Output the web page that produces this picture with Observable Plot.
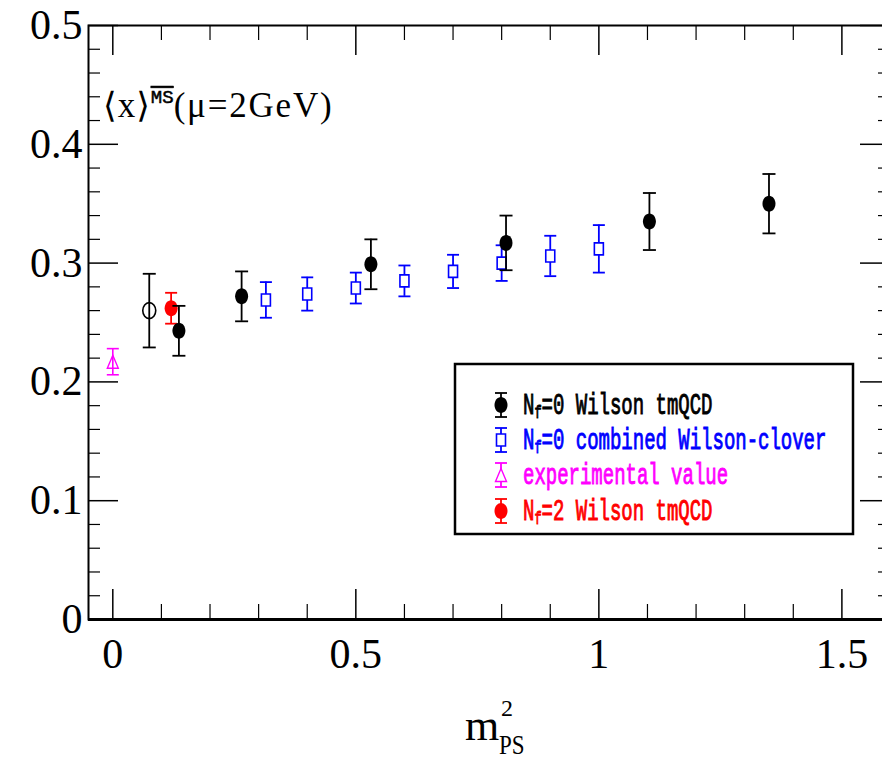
<!DOCTYPE html>
<html><head><meta charset="utf-8">
<script src="https://cdn.jsdelivr.net/npm/d3@7"></script>
<script src="https://cdn.jsdelivr.net/npm/@observablehq/plot@0.6"></script>
<style>
html,body{margin:0;padding:0;background:#fff;overflow:hidden;}
#wrap{position:relative;width:882px;height:758px;}
#overlay{position:absolute;left:0;top:0;pointer-events:none;}
</style></head><body><div id="wrap"></div>
<script>
// ---- data ----
const wilsonX   = [0.136, 0.265, 0.531, 0.809, 1.104, 1.350];
const wilsonY   = [0.243, 0.272, 0.299, 0.317, 0.335, 0.350];
const wilsonErr = [0.021, 0.021, 0.021, 0.023, 0.024, 0.025];

const chiralX   = [0.075];
const chiralY   = [0.260];
const chiralErr = [0.031];

const cloverX   = [0.315, 0.40, 0.50, 0.60, 0.70, 0.80, 0.90, 1.00];
const cloverY   = [0.269, 0.274, 0.279, 0.285, 0.293, 0.300, 0.306, 0.312];
const cloverErr = [0.015, 0.014, 0.013, 0.013, 0.014, 0.015, 0.017, 0.020];

const exptX   = [0.0];
const exptY   = [0.217];
const exptErr = [0.011];

const nf2X   = [0.120];
const nf2Y   = [0.262];
const nf2Err = [0.013];

const xMajor = [0, 0.5, 1, 1.5];
const xMinor = [0.1, 0.2, 0.3, 0.4, 0.6, 0.7, 0.8, 0.9, 1.1, 1.2, 1.3, 1.4];
const yMajor = [0, 0.1, 0.2, 0.3, 0.4, 0.5];
const yMinor = [0.02, 0.04, 0.06, 0.08, 0.12, 0.14, 0.16, 0.18, 0.22, 0.24, 0.26, 0.28,
                0.32, 0.34, 0.36, 0.38, 0.42, 0.44, 0.46, 0.48];

const legendLabels = ["0 Wilson tmQCD", "0 combined Wilson-clover", "experimental value", "2 Wilson tmQCD"];
const legendColors = ["black", "#0000ff", "#ff00ff", "#ff0000"];

// ---- helpers ----
const rec = (X, Y, E) => X.map((x, i) => ({x, y: Y[i], e: E[i]}));
const wilson = rec(wilsonX, wilsonY, wilsonErr);
const chiral = rec(chiralX, chiralY, chiralErr);
const clover = rec(cloverX, cloverY, cloverErr);
const expt = rec(exptX, exptY, exptErr);
const nf2 = rec(nf2X, nf2Y, nf2Err);

function ellipseSym(rx, ry) {
  return {draw(c) {
    const k = 0.5523;
    c.moveTo(rx, 0);
    c.bezierCurveTo(rx, k*ry, k*rx, ry, 0, ry);
    c.bezierCurveTo(-k*rx, ry, -rx, k*ry, -rx, 0);
    c.bezierCurveTo(-rx, -k*ry, -k*rx, -ry, 0, -ry);
    c.bezierCurveTo(k*rx, -ry, rx, -k*ry, rx, 0);
    c.closePath();
  }};
}
function rectSym(w, h) { return {draw(c) { c.rect(-w/2, -h/2, w, h); }}; }
function triSym(w, h) { return {draw(c) { c.moveTo(0, -h/2); c.lineTo(w/2, h/2); c.lineTo(-w/2, h/2); c.closePath(); }}; }
function capSym(w) { return {draw(c) { c.moveTo(-w/2, 0); c.lineTo(w/2, 0); }}; }

function errMarks(data, color, capW, sw) {
  return [
    Plot.ruleX(data, {x: "x", y1: d => d.y - d.e, y2: d => d.y + d.e, stroke: color, strokeWidth: sw}),
    Plot.dot(data, {x: "x", y: d => d.y + d.e, symbol: capSym(capW), stroke: color, fill: "none", strokeWidth: sw}),
    Plot.dot(data, {x: "x", y: d => d.y - d.e, symbol: capSym(capW), stroke: color, fill: "none", strokeWidth: sw})
  ];
}

// ---- layout ----
const W = 882, H = 758, mT = 25, mB = 139, mL = 88, mR = -8;
const pW = W - mL - mR, pH = H - mT - mB;
const serif = "'Liberation Serif', 'DejaVu Serif', serif";

const chart = Plot.plot({
  width: W, height: H,
  marginTop: mT, marginBottom: mB, marginLeft: mL, marginRight: mR,
  x: {domain: [-0.05, 1.6], axis: null},
  y: {domain: [0, 0.5], axis: null},
  style: {background: "white"},
  marks: [
    // ticks (inward, all four sides)
    Plot.tickX(xMajor, {x: d => d, insetTop: pH - 30, stroke: "black", strokeWidth: 1.5}),
    Plot.tickX(xMinor, {x: d => d, insetTop: pH - 15, stroke: "black", strokeWidth: 1.2}),
    Plot.tickX(xMajor, {x: d => d, insetBottom: pH - 30, stroke: "black", strokeWidth: 1.5}),
    Plot.tickX(xMinor, {x: d => d, insetBottom: pH - 15, stroke: "black", strokeWidth: 1.2}),
    Plot.tickY(yMajor, {y: d => d, insetRight: pW - 30, stroke: "black", strokeWidth: 1.5}),
    Plot.tickY(yMinor, {y: d => d, insetRight: pW - 12, stroke: "black", strokeWidth: 1.2}),
    Plot.tickY(yMajor, {y: d => d, insetLeft: pW - 30, stroke: "black", strokeWidth: 1.5}),
    Plot.tickY(yMinor, {y: d => d, insetLeft: pW - 12, stroke: "black", strokeWidth: 1.2}),
    Plot.frame({stroke: "black", strokeWidth: 2}),
    Plot.ruleY([0], {stroke: "black", strokeWidth: 3}),
    // tick labels
    Plot.text(xMajor, {x: d => d, frameAnchor: "bottom", dy: 48, text: d => String(d),
      fontSize: 42, fontFamily: serif, fill: "black", letterSpacing: 3}),
    Plot.text(yMajor, {y: d => d, frameAnchor: "left", dx: -6, textAnchor: "end", text: d => String(d),
      fontSize: 42, fontFamily: serif, fill: "black"}),
    // data
    ...errMarks(expt, "#ff00ff", 12, 1.6),
    Plot.dot(expt, {x: "x", y: "y", symbol: triSym(11, 13), stroke: "#ff00ff", fill: "none", strokeWidth: 1.4}),
    ...errMarks(clover, "#0000ff", 12, 1.8),
    Plot.dot(clover, {x: "x", y: "y", symbol: rectSym(9, 12), stroke: "#0000ff", fill: "white", strokeWidth: 1.6}),
    ...errMarks(chiral, "black", 13, 1.8),
    Plot.dot(chiral, {x: "x", y: "y", symbol: ellipseSym(6.5, 8), stroke: "black", fill: "none", strokeWidth: 1.6}),
    ...errMarks(nf2, "#ff0000", 12, 1.8),
    Plot.dot(nf2, {x: "x", y: "y", symbol: ellipseSym(6.5, 8), stroke: "none", fill: "#ff0000"}),
    ...errMarks(wilson, "black", 13, 1.8),
    Plot.dot(wilson, {x: "x", y: "y", symbol: ellipseSym(6.5, 8), stroke: "none", fill: "black"})
  ]
});
document.getElementById("wrap").appendChild(chart);

// y tick labels: spread digits a little like the reference
d3.select(chart).selectAll("text").filter(function() { return this.getAttribute("text-anchor") === "end"; })
  .attr("letter-spacing", 3);

// ---- overlay: annotation, axis title, legend ----
const ov = d3.select("#wrap").append("svg").attr("id", "overlay")
  .attr("width", W).attr("height", H);

// annotation <x>^MS(mu=2GeV)
const ann = ov.append("text").attr("x", 103).attr("y", 117)
  .attr("font-family", serif).attr("font-size", 35).attr("fill", "black");
ann.append("tspan").attr("letter-spacing", 1).text("⟨x⟩");
ann.append("tspan").attr("font-size", 19).attr("dy", -14).attr("font-family", "'Liberation Mono', monospace")
  .attr("stroke", "black").attr("stroke-width", 0.5).style("text-decoration", "overline").text("MS");
ann.append("tspan").attr("dy", 14).attr("letter-spacing", 1.8).text("(μ=2GeV)");

// x axis title m^2_PS
const xl = ov.append("g").attr("font-family", serif).attr("fill", "black");
xl.append("text").attr("x", 465).attr("y", 740).attr("font-size", 44).text("m");
xl.append("text").attr("x", 501).attr("y", 716).attr("font-size", 24).text("2");
xl.append("text").attr("transform", "translate(499,754) scale(1,1.2)").attr("font-size", 23).text("PS");

// legend
const lg = ov.append("g");
lg.append("rect").attr("x", 455).attr("y", 364).attr("width", 398).attr("height", 170)
  .attr("fill", "white").attr("stroke", "black").attr("stroke-width", 2.5);
const rowY = [405, 440, 475, 511];
const symX = 501;
const ell = (rx, ry) => d3.symbol(ellipseSym(rx, ry))();
legendLabels.forEach((lab, i) => {
  const col = legendColors[i], cy = rowY[i];
  const g = lg.append("g").attr("transform", `translate(${symX},${cy})`);
  g.append("line").attr("y1", -12).attr("y2", 12).attr("stroke", col).attr("stroke-width", 1.8);
  g.append("line").attr("x1", -6).attr("x2", 6).attr("y1", -12).attr("y2", -12).attr("stroke", col).attr("stroke-width", 1.8);
  g.append("line").attr("x1", -6).attr("x2", 6).attr("y1", 12).attr("y2", 12).attr("stroke", col).attr("stroke-width", 1.8);
  if (i === 0 || i === 3) g.append("path").attr("d", ell(6.5, 8)).attr("fill", col);
  if (i === 1) g.append("path").attr("d", d3.symbol(rectSym(9, 12))()).attr("fill", "white").attr("stroke", col).attr("stroke-width", 1.6);
  if (i === 2) g.append("path").attr("d", d3.symbol(triSym(11, 13))()).attr("fill", "white").attr("stroke", col).attr("stroke-width", 1.4);
  const t = lg.append("text").attr("transform", `translate(523,${cy + 8.5}) scale(1,1.6)`)
    .attr("font-family", "'Liberation Mono', 'DejaVu Sans Mono', monospace").attr("font-size", 19)
    .attr("fill", col).attr("stroke", col).attr("stroke-width", 0.6);
  if (i === 2) { t.text(lab); }
  else {
    t.append("tspan").text("N");
    t.append("tspan").attr("font-size", 12).attr("dy", 3).text("f");
    t.append("tspan").attr("dy", -3).text("=" + lab);
  }
});
</script></body></html>
